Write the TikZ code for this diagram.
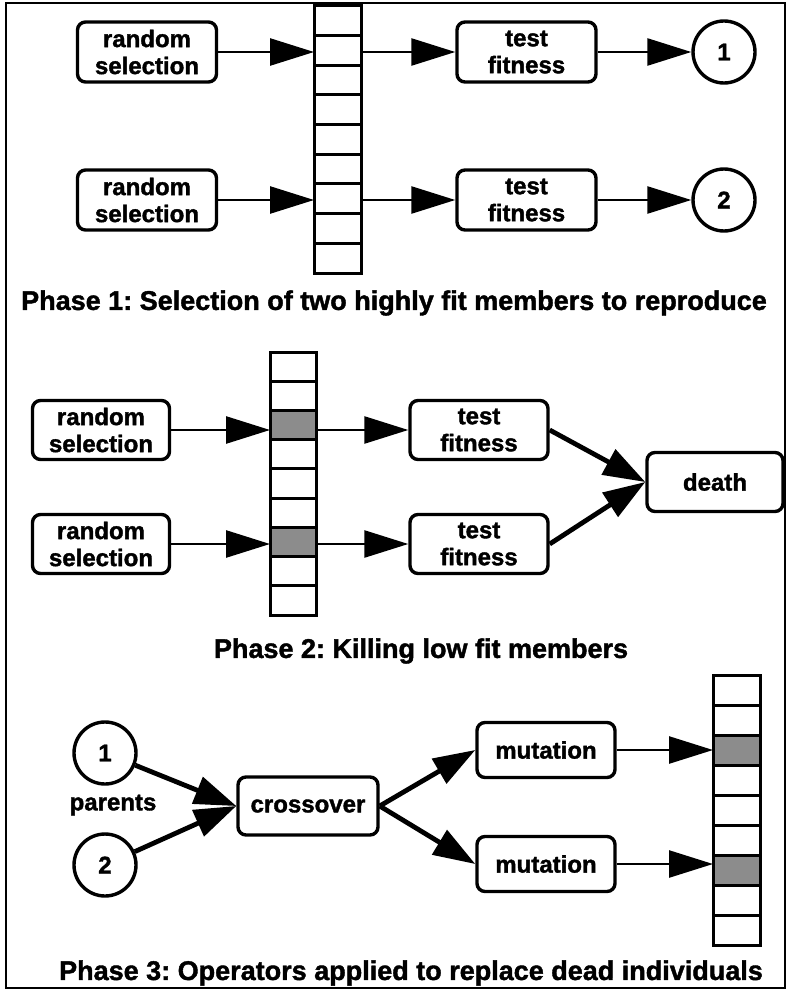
\documentclass[tikz,border=0pt]{standalone}
\usepackage{fontspec}
\setmainfont{Liberation Sans}[BoldFeatures={FakeBold=1.5}]
\usetikzlibrary{arrows.meta,calc}
\frenchspacing
\begin{document}
\begin{tikzpicture}[x=1pt,y=-1pt,
  box/.style={draw, line width=3.4pt, rounded corners=8pt, minimum width=139pt, minimum height=60pt, align=center, inner sep=0pt, font=\fontsize{24}{27}\selectfont\bfseries},
  circ/.style={draw, circle, line width=3.4pt, minimum size=62pt, inner sep=0pt, font=\fontsize{24}{27}\selectfont\bfseries},
  popcol/.style={draw, rectangle, line width=3pt, fill=white, inner sep=0pt, outer sep=0pt},
  colline/.style={line width=3pt},
  arr/.style={line width=2.6pt, -{Triangle[length=44pt,width=27pt]}},
  darr/.style={line width=4.8pt, -{Triangle[length=42pt,width=28pt]}},
  captext/.style={font=\fontsize{27}{30}\selectfont\bfseries, inner sep=0pt},
  lbl/.style={font=\fontsize{24}{27}\selectfont\bfseries, inner sep=0pt},
  shadecell/.style={fill=black!45}
]
\useasboundingbox (0,0) rectangle (788,992);
\draw[line width=2.5pt] (6,3) rectangle (785,988);

% Phase 1
\node[box] (rs1) at (147,52) {random\\selection};
\node[box] (rs2) at (147,200) {random\\selection};
\node[popcol, minimum width=47pt, minimum height=267pt] (col1) at (337.5,139.5) {};
\node[box] (tf1) at (526.5,52) {test\\fitness};
\node[box] (tf2) at (526.5,200) {test\\fitness};
\node[circ] (o1) at (724,52) {1};
\node[circ] (o2) at (724,200) {2};
\draw[arr] (rs1.east) -- (rs1.east -| col1.west);
\draw[arr] (rs2.east) -- (rs2.east -| col1.west);
\draw[arr] (tf1.west -| col1.east) -- (tf1.west);
\draw[arr] (tf2.west -| col1.east) -- (tf2.west);
\draw[arr] (tf1.east) -- (o1.west);
\draw[arr] (tf2.east) -- (o2.west);
\node[captext] (cap1) at (394,303) {Phase 1: Selection of two highly fit members to reproduce};

% Phase 2
\node[box, minimum width=137pt, minimum height=59pt] (rs3) at (101,430) {random\\selection};
\node[box, minimum width=137pt, minimum height=59pt] (rs4) at (101,544) {random\\selection};
\node[popcol, minimum width=46pt, minimum height=263pt] (col2) at (293,483.5) {};
\node[box, minimum width=138pt, minimum height=59pt] (tf3) at (479,430) {test\\fitness};
\node[box, minimum width=138pt, minimum height=59pt] (tf4) at (479,544) {test\\fitness};
\node[box, minimum width=136pt, minimum height=59pt] (death) at (715,482) {death};
\draw[arr] (rs3.east) -- (rs3.east -| col2.west);
\draw[arr] (rs4.east) -- (rs4.east -| col2.west);
\draw[arr] (tf3.west -| col2.east) -- (tf3.west);
\draw[arr] (tf4.west -| col2.east) -- (tf4.west);
\draw[darr] (tf3.east) -- (death.west);
\draw[darr] (tf4.east) -- (death.west);
\node[captext] (cap2) at (421,651) {Phase 2: Killing low fit members};

% Phase 3
\node[circ] (p1) at (105,753) {1};
\node[circ] (p2) at (105,865) {2};
\node[lbl] (par) at (113,805) {parents};
\node[box, minimum width=140pt, minimum height=58pt] (cross) at (308,806) {crossover};
\node[box, minimum width=138pt, minimum height=55pt] (mut1) at (546,750) {mutation};
\node[box, minimum width=138pt, minimum height=55pt] (mut2) at (546,864) {mutation};
\node[popcol, minimum width=47pt, minimum height=270pt] (col3) at (736.5,810) {};
\draw[darr] (p1) -- (cross.west);
\draw[darr] (p2) -- (cross.west);
\draw[darr] (cross.east) -- (mut1.west);
\draw[darr] (cross.east) -- (mut2.west);
\draw[arr] (mut1.east) -- (mut1.east -| col3.west);
\draw[arr] (mut2.east) -- (mut2.east -| col3.west);
\node[captext] (cap3) at (411,973) {Phase 3: Operators applied to replace dead individuals};

% column cells
\foreach \c/\a/\b in {col2/2/3, col2/6/7, col3/2/3, col3/6/7}
  \fill[shadecell] ($(\c.north west)!\a/9!(\c.south west)$) rectangle ($(\c.north east)!\b/9!(\c.south east)$);
\foreach \c in {col1,col2,col3} {
  \foreach \i in {1,...,8}
    \draw[colline] ($(\c.north west)!\i/9!(\c.south west)$) -- ($(\c.north east)!\i/9!(\c.south east)$);
  \draw[colline] (\c.north west) rectangle (\c.south east);
}
\end{tikzpicture}
\end{document}
